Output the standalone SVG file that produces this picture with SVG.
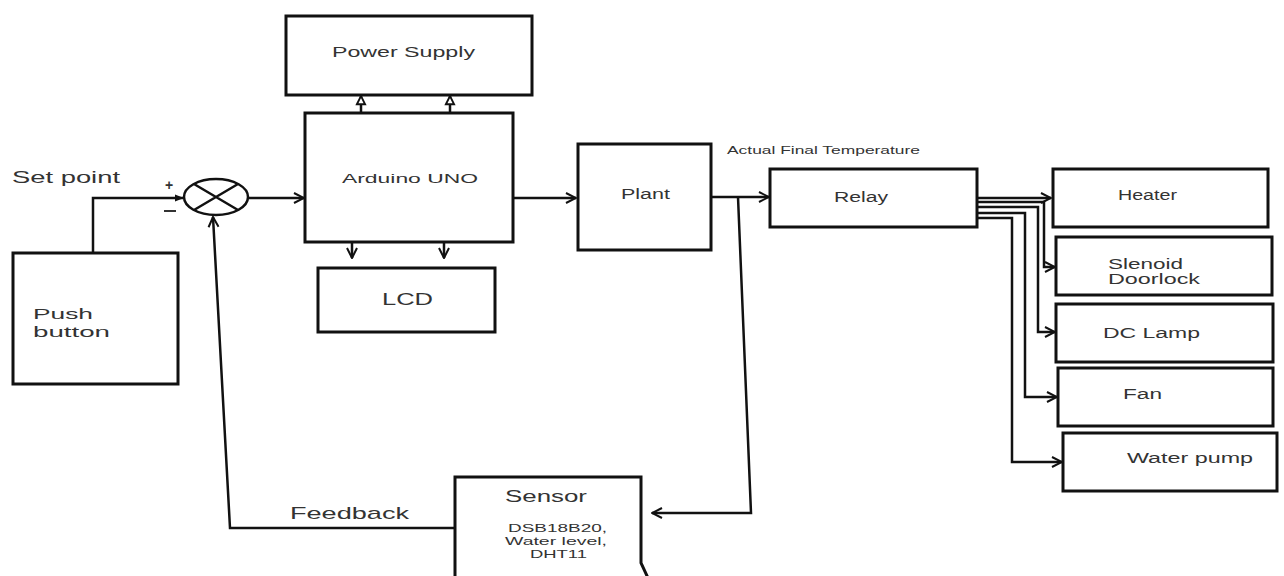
<svg xmlns="http://www.w3.org/2000/svg" width="1284" height="576" viewBox="0 0 1284 576">
  <style>
    .box { fill: #fff; stroke: #111; stroke-width: 3; }
    .wire { fill: none; stroke: #111; stroke-width: 2.5; }
    .lbl { font-family: "Liberation Sans", Arial, sans-serif; fill: #333; }
  </style>
  <defs>
    <marker id="open" viewBox="0 0 12 12" refX="11" refY="6" markerWidth="12" markerHeight="12" markerUnits="userSpaceOnUse" orient="auto">
      <path d="M1,1 L11,6 L1,11" fill="none" stroke="#111" stroke-width="2"/>
    </marker>
    <marker id="hollow" viewBox="0 0 12 12" refX="11" refY="6" markerWidth="11" markerHeight="13" markerUnits="userSpaceOnUse" orient="auto">
      <path d="M2,1.5 L11,6 L2,10.5 Z" fill="#fff" stroke="#111" stroke-width="2"/>
    </marker>
    <marker id="solid" viewBox="0 0 10 10" refX="9" refY="5" markerWidth="9" markerHeight="9" markerUnits="userSpaceOnUse" orient="auto">
      <path d="M0,1 L10,5 L0,9 Z" fill="#111"/>
    </marker>
  </defs>
  <rect width="1284" height="576" fill="#fff"/>

  <g id="connectors">
    <!-- push button to summing junction -->
    <path class="wire" d="M93,253 V198 H183" marker-end="url(#solid)"/>
    <!-- junction to controller -->
    <path class="wire" d="M248,198 H304" marker-end="url(#open)"/>
    <!-- controller to power supply -->
    <path class="wire" d="M361,113 V96" marker-end="url(#hollow)"/>
    <path class="wire" d="M450,113 V96" marker-end="url(#hollow)"/>
    <!-- controller to LCD -->
    <path class="wire" d="M352,242 V258" marker-end="url(#open)"/>
    <path class="wire" d="M444,242 V258" marker-end="url(#open)"/>
    <!-- controller to plant -->
    <path class="wire" d="M514,198 H576" marker-end="url(#open)"/>
    <!-- plant to relay -->
    <path class="wire" d="M711,197 H769" marker-end="url(#open)"/>
    <!-- plant output to sensor -->
    <path class="wire" d="M738,197 L751,513 H652" marker-end="url(#open)"/>
    <!-- feedback to junction -->
    <path class="wire" d="M455,528 H230 L213,217" marker-end="url(#open)"/>
    <!-- relay outputs -->
    <path class="wire" d="M977,198 H1051" marker-end="url(#open)"/>
    <path class="wire" d="M977,202 H1044 V267 H1055" marker-end="url(#open)"/>
    <path class="wire" d="M977,207 H1038 V332 H1055" marker-end="url(#open)"/>
    <path class="wire" d="M977,213 H1025 V397 H1057" marker-end="url(#open)"/>
    <path class="wire" d="M977,218 H1012 V462 H1062" marker-end="url(#open)"/>
  </g>

  <g id="setpoint">
    <text class="lbl" x="12" y="183" font-size="17" textLength="108" lengthAdjust="spacingAndGlyphs">Set point</text>
  </g>

  <g id="feedback">
    <text class="lbl" x="290" y="519" font-size="17" textLength="119" lengthAdjust="spacingAndGlyphs">Feedback</text>
  </g>

  <g id="junction">
    <ellipse cx="216" cy="197" rx="32" ry="18" fill="#fff" stroke="#111" stroke-width="2.5"/>
    <path d="M194,184 L238,210 M194,210 L238,184" stroke="#111" stroke-width="2.5"/>
    <text class="lbl" x="165" y="190" font-size="14" font-weight="bold">+</text>
    <path d="M164,211 H176" stroke="#333" stroke-width="2"/>
  </g>

  <g id="push-button">
    <rect class="box" x="13" y="253" width="165" height="131"/>
    <text class="lbl" x="33" y="319" font-size="15" textLength="60" lengthAdjust="spacingAndGlyphs">Push</text>
    <text class="lbl" x="33" y="337" font-size="15" textLength="77" lengthAdjust="spacingAndGlyphs">button</text>
  </g>

  <g id="power-supply">
    <rect class="box" x="286" y="16" width="246" height="79"/>
    <text class="lbl" x="332" y="57" font-size="14" textLength="143" lengthAdjust="spacingAndGlyphs">Power Supply</text>
  </g>

  <g id="arduino">
    <rect class="box" x="305" y="113" width="208" height="129"/>
    <text class="lbl" x="342" y="183" font-size="13" textLength="136" lengthAdjust="spacingAndGlyphs">Arduino UNO</text>
  </g>

  <g id="lcd">
    <rect class="box" x="318" y="268" width="177" height="64"/>
    <text class="lbl" x="382" y="305" font-size="16" textLength="51" lengthAdjust="spacingAndGlyphs">LCD</text>
  </g>

  <g id="plant">
    <rect class="box" x="578" y="144" width="133" height="106"/>
    <text class="lbl" x="621" y="199" font-size="14" textLength="49" lengthAdjust="spacingAndGlyphs">Plant</text>
  </g>

  <g id="actual-temp">
    <text class="lbl" x="727" y="154" font-size="10.5" textLength="193" lengthAdjust="spacingAndGlyphs">Actual Final Temperature</text>
  </g>

  <g id="relay">
    <rect class="box" x="770" y="169" width="207" height="58"/>
    <text class="lbl" x="834" y="202" font-size="14" textLength="54" lengthAdjust="spacingAndGlyphs">Relay</text>
  </g>

  <g id="sensor">
    <path class="box" d="M455,578 V477 H641 V563 L648,578"/>
    <text class="lbl" x="505" y="502" font-size="16" textLength="82" lengthAdjust="spacingAndGlyphs">Sensor</text>
    <text class="lbl" x="508" y="532" font-size="11.5" textLength="99" lengthAdjust="spacingAndGlyphs">DSB18B20,</text>
    <text class="lbl" x="505" y="545" font-size="11.5" textLength="102" lengthAdjust="spacingAndGlyphs">Water level,</text>
    <text class="lbl" x="530" y="558" font-size="11.5" textLength="57" lengthAdjust="spacingAndGlyphs">DHT11</text>
  </g>

  <g id="heater">
    <rect class="box" x="1053" y="169" width="215" height="58"/>
    <text class="lbl" x="1118" y="200" font-size="14" textLength="59" lengthAdjust="spacingAndGlyphs">Heater</text>
  </g>

  <g id="doorlock">
    <rect class="box" x="1056" y="237" width="216" height="58"/>
    <text class="lbl" x="1108" y="269" font-size="14" textLength="75" lengthAdjust="spacingAndGlyphs">Slenoid</text>
    <text class="lbl" x="1108" y="284" font-size="14" textLength="92" lengthAdjust="spacingAndGlyphs">Doorlock</text>
  </g>

  <g id="dc-lamp">
    <rect class="box" x="1056" y="304" width="217" height="58"/>
    <text class="lbl" x="1103" y="338" font-size="14" textLength="97" lengthAdjust="spacingAndGlyphs">DC Lamp</text>
  </g>

  <g id="fan">
    <rect class="box" x="1058" y="368" width="215" height="58"/>
    <text class="lbl" x="1123" y="399" font-size="14" textLength="39" lengthAdjust="spacingAndGlyphs">Fan</text>
  </g>

  <g id="water-pump">
    <rect class="box" x="1063" y="433" width="214" height="58"/>
    <text class="lbl" x="1127" y="463" font-size="14" textLength="126" lengthAdjust="spacingAndGlyphs">Water pump</text>
  </g>
</svg>
